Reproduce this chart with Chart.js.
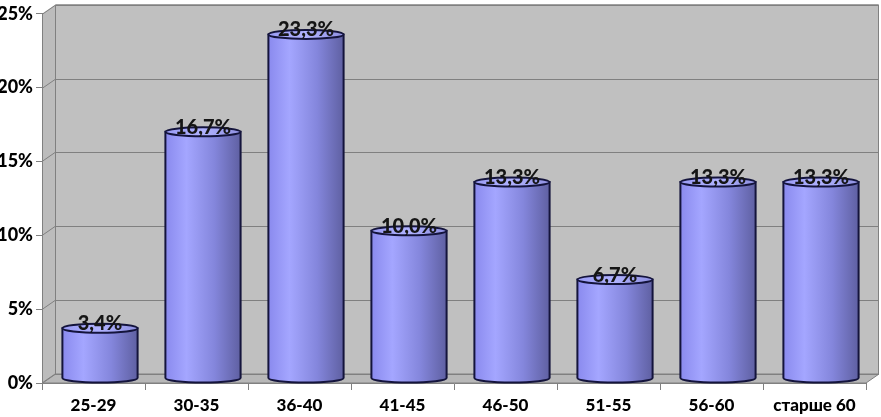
<!DOCTYPE html>
<html>
<head>
<meta charset="utf-8">
<script src="https://cdn.jsdelivr.net/npm/chart.js@4"></script>
<style>
html,body{margin:0;padding:0;background:#fff;}
#wrap{width:881px;height:417px;}
</style>
</head>
<body>
<div id="wrap"><canvas id="c" width="881" height="417"></canvas></div>
<script>
const categories = ['25-29','30-35','36-40','41-45','46-50','51-55','56-60','старше 60'];
const values = [3.4, 16.7, 23.3, 10.0, 13.3, 6.7, 13.3, 13.3];
const yTicks = [0, 5, 10, 15, 20, 25];

const DX = 13, DY = -9;
const FONT = 'Lato, "Open Sans", sans-serif';

const wallPlugin = {
  id: 'walls',
  beforeDraw(chart) {
    const ctx = chart.ctx;
    const a = chart.chartArea;
    const ys = chart.scales.y;
    ctx.save();
    ctx.fillStyle = '#fff';
    ctx.fillRect(0, 0, chart.width, chart.height);
    ctx.fillStyle = '#c0c0c0';
    ctx.fillRect(a.left + DX, a.top + DY, a.right - a.left, a.bottom - a.top);
    ctx.beginPath();
    ctx.moveTo(a.left, a.top);
    ctx.lineTo(a.left + DX, a.top + DY);
    ctx.lineTo(a.left + DX, a.bottom + DY);
    ctx.lineTo(a.left, a.bottom);
    ctx.closePath();
    ctx.fillStyle = '#bcbcbc';
    ctx.fill();
    ctx.beginPath();
    ctx.moveTo(a.left, a.bottom);
    ctx.lineTo(a.left + DX, a.bottom + DY);
    ctx.lineTo(a.right + DX, a.bottom + DY);
    ctx.lineTo(a.right, a.bottom);
    ctx.closePath();
    ctx.fillStyle = '#b8b8b8';
    ctx.fill();
    ctx.strokeStyle = '#808080';
    ctx.lineWidth = 1;
    ctx.stroke();
    ctx.strokeStyle = '#808080';
    ctx.lineWidth = 1;
    yTicks.forEach(v => {
      const y = Math.round(ys.getPixelForValue(v)) + 0.5;
      ctx.beginPath();
      ctx.moveTo(a.left, y);
      ctx.lineTo(a.left + DX, y + DY);
      ctx.lineTo(a.right + DX, y + DY);
      ctx.stroke();
    });
    ctx.beginPath();
    ctx.moveTo(a.left + DX + 0.5, a.bottom + DY);
    ctx.lineTo(a.left + DX + 0.5, a.top + DY);
    ctx.lineTo(a.right + DX - 0.5, a.top + DY);
    ctx.lineTo(a.right + DX - 0.5, a.bottom + DY);
    ctx.stroke();
    ctx.restore();
  },
  afterDatasetsDraw(chart) {
    const ctx = chart.ctx;
    const meta = chart.getDatasetMeta(0);
    ctx.save();
    meta.data.forEach((bar, i) => {
      const p = bar.getProps(['x', 'y', 'base', 'width'], true);
      const cx = p.x + DX / 2;
      const top = p.y + DY / 2;
      const base = p.base + DY / 2;
      const rx = p.width / 2;
      const ry = 4.5;
      const g = ctx.createLinearGradient(cx - rx, 0, cx + rx, 0);
      g.addColorStop(0, '#8a8aee');
      g.addColorStop(0.28, '#a4a6ff');
      g.addColorStop(0.65, '#8486dc');
      g.addColorStop(1, '#5f60a2');
      ctx.beginPath();
      ctx.moveTo(cx - rx, top);
      ctx.lineTo(cx - rx, base);
      ctx.ellipse(cx, base, rx, ry, 0, Math.PI, 0, true);
      ctx.lineTo(cx + rx, top);
      ctx.closePath();
      ctx.fillStyle = g;
      ctx.fill();
      ctx.strokeStyle = '#14143c';
      ctx.lineWidth = 2;
      ctx.stroke();
      const g2 = ctx.createLinearGradient(cx - rx, 0, cx + rx, 0);
      g2.addColorStop(0, '#9a9cf4');
      g2.addColorStop(0.5, '#b0b2ff');
      g2.addColorStop(1, '#8e90e0');
      ctx.beginPath();
      ctx.ellipse(cx, top, rx, ry, 0, 0, Math.PI * 2);
      ctx.fillStyle = g2;
      ctx.fill();
      ctx.stroke();
      ctx.fillStyle = '#151515';
      ctx.font = '900 20px ' + FONT;
      ctx.textAlign = 'center';
      ctx.textBaseline = 'alphabetic';
      ctx.fillText(values[i].toFixed(1).replace('.', ',') + '%', cx, top + 2);
    });
    ctx.restore();
  }
};

new Chart(document.getElementById('c'), {
  type: 'bar',
  data: {
    labels: categories,
    datasets: [{
      data: values,
      backgroundColor: 'rgba(0,0,0,0)',
      borderWidth: 0,
      categoryPercentage: 1.0,
      barPercentage: 0.73
    }]
  },
  options: {
    responsive: false,
    animation: false,
    events: [],
    layout: { padding: { top: 10, right: 15, left: 0, bottom: 0 } },
    plugins: { legend: { display: false }, tooltip: { enabled: false } },
    scales: {
      x: {
        grid: { display: true, drawOnChartArea: false, drawTicks: true, tickLength: 7, color: '#808080', offset: true },
        border: { display: true, color: '#808080' },
        ticks: { color: '#000', font: { family: FONT, size: 17, weight: '900' }, padding: 5, maxRotation: 0 },
        afterFit(s) { s.height = 34; }
      },
      y: {
        min: 0, max: 25,
        afterBuildTicks(s) { s.ticks = yTicks.map(v => ({ value: v })); },
        grid: { display: true, drawOnChartArea: false, drawTicks: true, tickLength: 6, color: '#808080' },
        border: { display: true, color: '#808080' },
        ticks: { color: '#000', font: { family: FONT, size: 18, weight: '900' }, padding: 3, callback: v => v + '%' },
        afterFit(s) { s.width = 42; }
      }
    }
  },
  plugins: [wallPlugin]
});
</script>
</body>
</html>
